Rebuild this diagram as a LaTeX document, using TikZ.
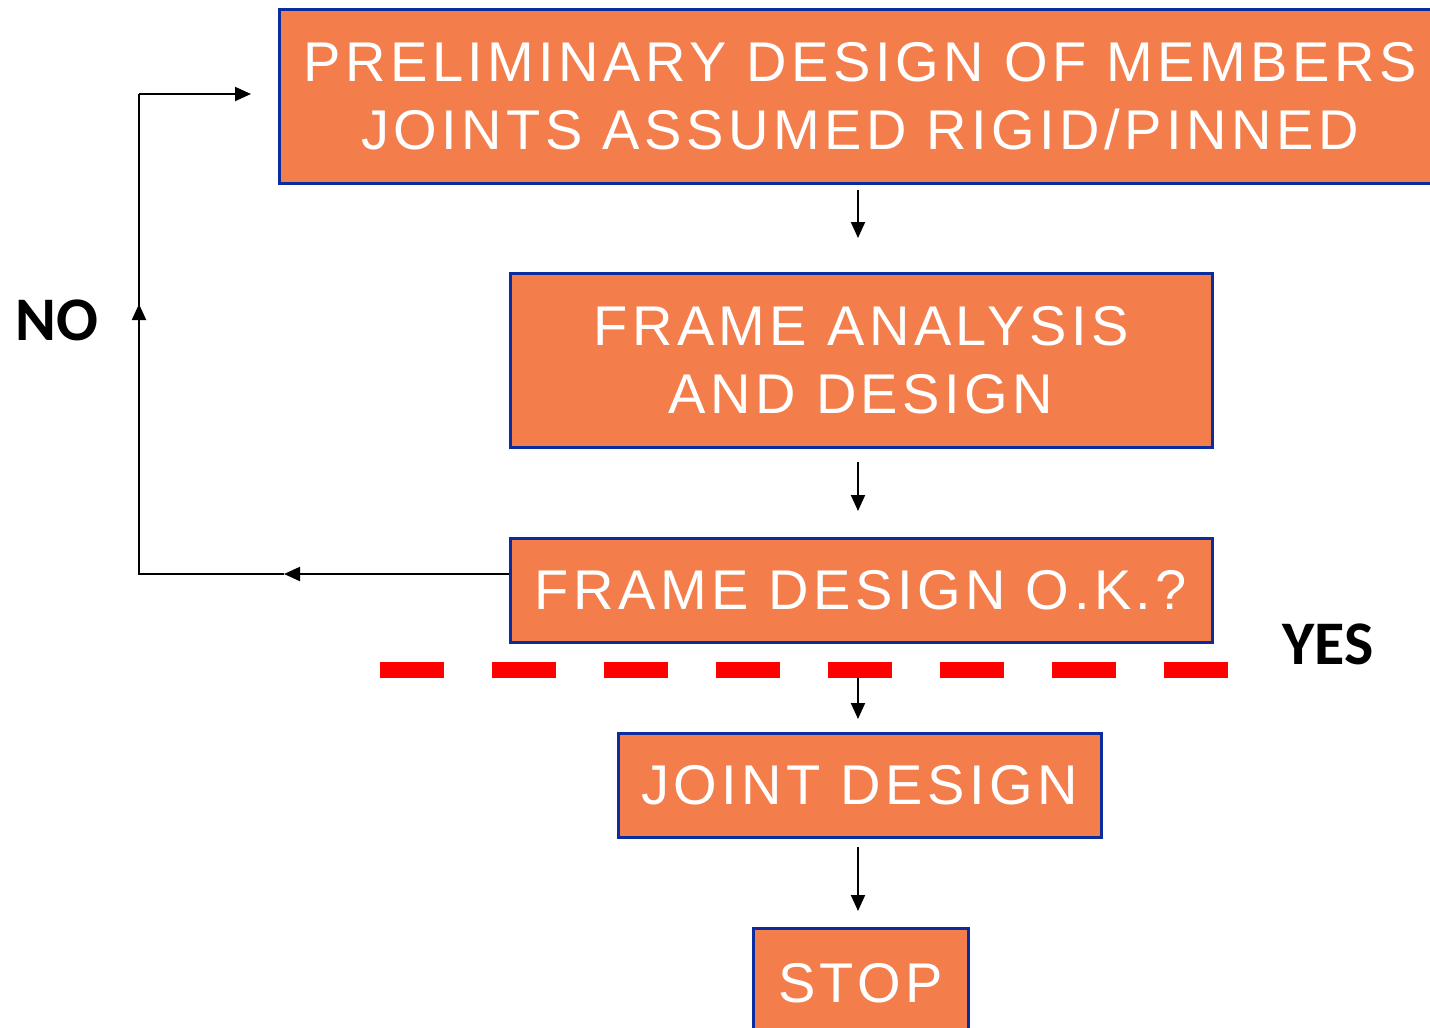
\documentclass[tikz,border=0pt]{standalone}
\usepackage{fontspec}
\setmainfont{Liberation Sans}[LetterSpace=8]
\newfontfamily\labelfont{Carlito}
\usetikzlibrary{arrows.meta}
\definecolor{boxfill}{HTML}{F37D4B}
\definecolor{boxedge}{HTML}{0A2C9E}
\definecolor{cutline}{HTML}{FF0000}
\tikzset{
  stepbox/.style={draw=boxedge, fill=boxfill, line width=3pt, text=white,
    align=center, inner sep=0pt, font=\fontsize{56}{68}\selectfont},
  flow/.style={line width=2pt, -{Triangle[length=16pt,width=14pt]}},
  plain/.style={line width=2pt},
  answer/.style={font=\labelfont\bfseries\fontsize{62}{62}\selectfont}
}
\begin{document}
\begin{tikzpicture}[x=1pt,y=-1pt]
\useasboundingbox (0,0) rectangle (1430,1028);
\clip (0,0) rectangle (1430,1028);

% process boxes (the first one runs past the right edge)
\node[stepbox, minimum width=1162, minimum height=174] (prelim) at (860,96)
  {PRELIMINARY DESIGN OF MEMBERS\\JOINTS ASSUMED RIGID/PINNED};
\node[stepbox, minimum width=702, minimum height=174] (analysis) at (861,360)
  {FRAME ANALYSIS\\AND DESIGN};
\node[stepbox, minimum width=702, minimum height=104] (check) at (861,590)
  {FRAME DESIGN O.K.?};
\node[stepbox, minimum width=483, minimum height=104] (joint) at (859.5,785)
  {JOINT DESIGN};
\node[stepbox, minimum width=215, minimum height=110] (stop) at (860.5,983)
  {STOP};

% answer labels
\node[answer] (no) at (57,320) {NO};
\node[answer] (yes) at (1328,644) {YES};

% downward flow arrows
\coordinate (a1) at (858,190); \coordinate (a1e) at (858,238);
\coordinate (a2) at (858,462); \coordinate (a2e) at (858,511);
\coordinate (a3) at (858,672); \coordinate (a3e) at (858,719);
\coordinate (a4) at (858,847); \coordinate (a4e) at (858,911);
\draw[flow] (a1) -- (a1e);
\draw[flow] (a2) -- (a2e);
\draw[flow] (a3) -- (a3e);
\draw[flow] (a4) -- (a4e);

% feedback loop on NO
\coordinate (loopstart) at (check.west |- 0,574);
\coordinate (lmid) at (284,574);
\coordinate (lcorner) at (139,574);
\coordinate (lup) at (139,304);
\coordinate (ltop) at (139,94);
\coordinate (lend) at (251,94);
\draw[flow] (loopstart) -- (lmid);
\draw[plain] (lmid) -- (lcorner) -- (lup);
\draw[flow] (lcorner) -- (lup);
\draw[plain] (lup) -- (ltop);
\draw[flow] (ltop) -- (lend);

% boundary between frame and joint design
\coordinate (cutL) at (380,670);
\coordinate (cutR) at (1228,670);
\draw[cutline, line width=16pt, dash pattern=on 64pt off 48pt] (cutL) -- (cutR);
\end{tikzpicture}
\end{document}
